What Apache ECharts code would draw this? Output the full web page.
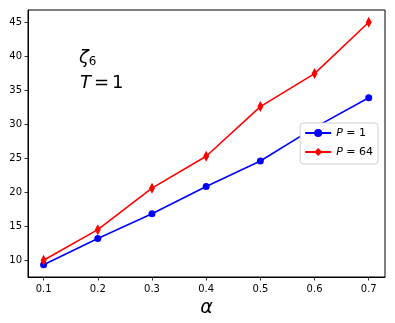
<!DOCTYPE html>
<html><head><meta charset="utf-8">
<script src="https://cdn.jsdelivr.net/npm/echarts@6/dist/echarts.min.js"></script>
<style>html,body{margin:0;padding:0;background:#fff}#c{width:395px;height:323px}</style>
</head><body><div id="c"></div>
<script>
const alphas = [0.1, 0.2, 0.3, 0.4, 0.5, 0.6, 0.7];
const p1Values = [9.35, 13.2, 16.85, 20.85, 24.6, 29.5, 33.9];
const p64Values = [10.0, 14.5, 20.6, 25.3, 32.6, 37.45, 45.0];
const xTicks = [0.1, 0.2, 0.3, 0.4, 0.5, 0.6, 0.7];
const yTicks = [10, 15, 20, 25, 30, 35, 40, 45];

const F = 'DejaVu Sans';
const chart = echarts.init(document.getElementById('c'), null, {renderer: 'canvas'});
const axCommon = {
  axisLine: {show: true, onZero: false, lineStyle: {color: '#000', width: 1}},
  axisTick: {show: true, inside: false, length: 3.5, lineStyle: {color: '#000', width: 0.8}},
  splitLine: {show: false},
  axisLabel: {color: '#000', fontFamily: F, fontSize: 10}
};
chart.setOption({
  animation: false,
  grid: {left: 28, right: 10, top: 10, bottom: 46, show: true, borderColor: '#000', borderWidth: 1, containLabel: false},
  xAxis: Object.assign({}, axCommon, {
    type: 'value', min: 0.0712, max: 0.730,
    axisTick: Object.assign({}, axCommon.axisTick, {customValues: xTicks}),
    axisLabel: Object.assign({}, axCommon.axisLabel, {customValues: xTicks, margin: 7, formatter: v => v.toFixed(1)}),
    name: 'α', nameLocation: 'middle', nameGap: 21,
    nameTextStyle: {fontFamily: F, fontStyle: 'italic', fontSize: 19, color: '#000'}
  }),
  yAxis: Object.assign({}, axCommon, {
    type: 'value', min: 7.54, max: 46.8,
    axisTick: Object.assign({}, axCommon.axisTick, {customValues: yTicks}),
    axisLabel: Object.assign({}, axCommon.axisLabel, {customValues: yTicks, margin: 6})
  }),
  legend: {
    right: 17, top: 123, orient: 'vertical', z: 10,
    backgroundColor: '#fff', borderColor: '#d0d0d0', borderWidth: 1, borderRadius: 3,
    padding: [3, 5, 5, 4], itemGap: 5, itemWidth: 26, itemHeight: 10,
    textStyle: {fontFamily: F, fontSize: 11, lineHeight: 14, color: '#000', rich: {i: {fontStyle: 'italic', fontFamily: F, fontSize: 11, lineHeight: 14}}},
    formatter: n => n === 'P1' ? '{i|P} = 1' : '{i|P} = 64',
    data: ['P1', 'P64']
  },
  graphic: [
    {type: 'text', left: 79, top: 49, style: {
      text: '{z|ζ}{s|6}', fill: '#000',
      rich: {z: {fontFamily: F, fontSize: 18, fontStyle: 'italic'}, s: {fontFamily: F, fontSize: 12, verticalAlign: 'bottom', padding: [8, 0, 0, 0]}}
    }},
    {type: 'text', left: 80, top: 74, style: {
      text: '{i|T}{o|=}1', fill: '#000',
      rich: {i: {fontFamily: F, fontSize: 18, fontStyle: 'italic'}, o: {fontFamily: F, fontSize: 18, padding: [0, 3, 0, 3]}}, fontFamily: F, fontSize: 18
    }}
  ],
  series: [
    {name: 'P1', type: 'line', data: alphas.map((a, i) => [a, p1Values[i]]),
     symbol: 'circle', symbolSize: 7, lineStyle: {color: '#0000ff', width: 1.6}, itemStyle: {color: '#0000ff'}, z: 2},
    {name: 'P64', type: 'line', data: alphas.map((a, i) => [a, p64Values[i]]),
     symbol: 'diamond', symbolSize: [6, 11], lineStyle: {color: '#ff0000', width: 1.6}, itemStyle: {color: '#ff0000'}, z: 3}
  ]
});
</script></body></html>
